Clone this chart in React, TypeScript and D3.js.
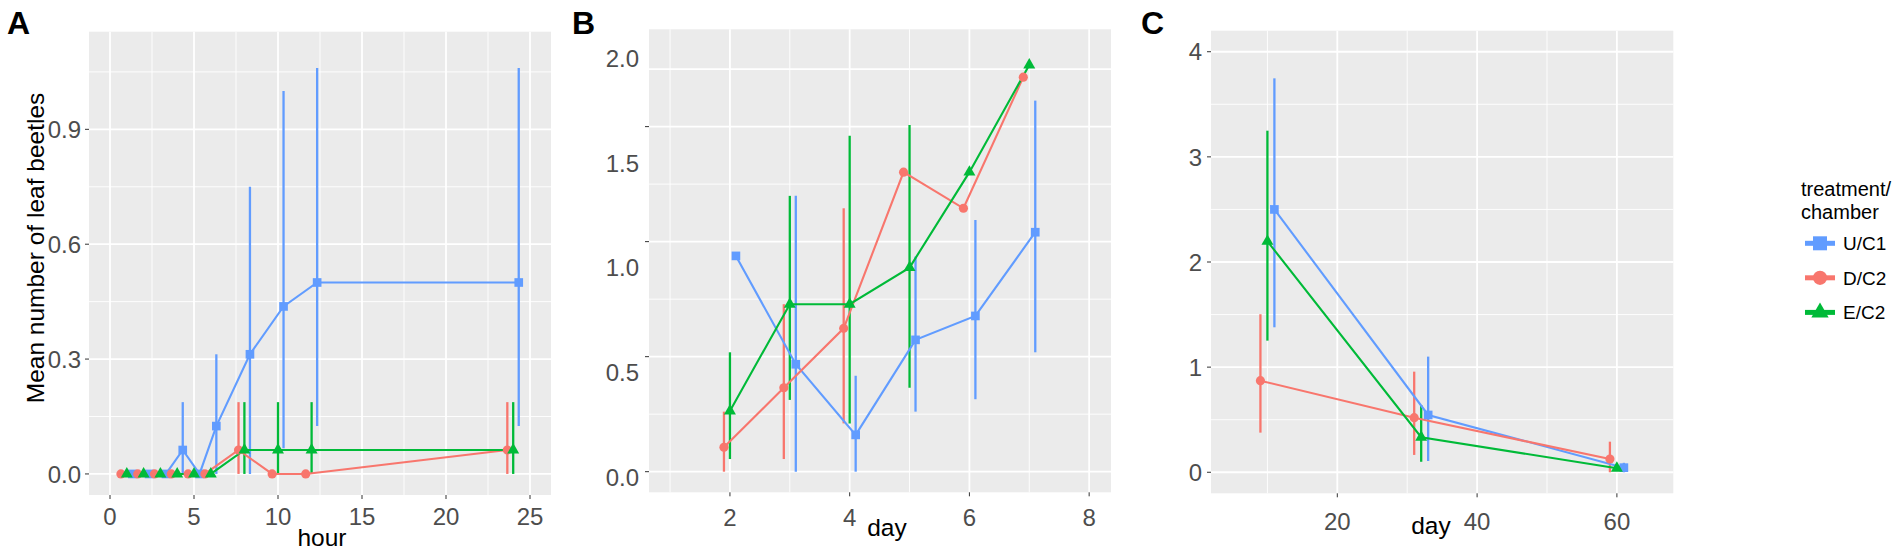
import React from "react";
import * as d3 from "d3";

// ---------- shared ----------
const seriesKeys = ["U/C1", "D/C2", "E/C2"];
const seriesColors = ["#619CFF", "#F8766D", "#00BA38"];
const seriesShapes = [d3.symbolSquare, d3.symbolCircle, d3.symbolTriangle];

// ---------- Panel A (hour) ----------
const hoursA = [1, 2, 3, 4, 5, 6, 8, 10, 12, 24];
const uA = [0, 0, 0, 0.0625, 0, 0.125, 0.3125, 0.4375, 0.5, 0.5];
const uALo = [0, 0, 0, 0, 0, 0, 0, 0.067, 0.125, 0.125];
const uAHi = [0, 0, 0, 0.1875, 0, 0.3125, 0.75, 1.0, 1.06, 1.06];
const dA = [0, 0, 0, 0, 0, 0, 0.0625, 0, 0, 0.0625];
const dALo = [0, 0, 0, 0, 0, 0, 0, 0, 0, 0];
const dAHi = [0, 0, 0, 0, 0, 0, 0.1875, 0, 0, 0.1875];
const eA = [0, 0, 0, 0, 0, 0, 0.0625, 0.0625, 0.0625, 0.0625];
const eALo = [0, 0, 0, 0, 0, 0, 0, 0, 0, 0];
const eAHi = [0, 0, 0, 0, 0, 0, 0.1875, 0.1875, 0.1875, 0.1875];
const xTicksA = [0, 5, 10, 15, 20, 25];
const xMinorA = [2.5, 7.5, 12.5, 17.5, 22.5];
const yTicksA = [0, 0.3, 0.6, 0.9];
const yMinorA = [0.15, 0.45, 0.75, 1.05];
const yLabelsA = ["0.0", "0.3", "0.6", "0.9"];

// ---------- Panel B (day) ----------
const daysB = [2, 3, 4, 5, 6, 7];
const uB = [0.938, 0.467, 0.16, 0.573, 0.677, 1.041];
const uBLo = [null, 0, 0, 0.261, 0.315, 0.519];
const uBHi = [null, 1.199, 0.417, 0.935, 1.094, 1.613];
const dB = [0.106, 0.365, 0.623, 1.302, 1.145, 1.715];
const dBLo = [0, 0.055, 0.21, null, null, null];
const dBHi = [0.261, 0.728, 1.145, null, null, null];
const eB = [0.264, 0.728, 0.728, 0.887, 1.302, 1.768];
const eBLo = [0.055, 0.312, 0.21, 0.365, null, null];
const eBHi = [0.519, 1.199, 1.46, 1.507, null, null];
const xTicksB = [2, 4, 6, 8];
const xMinorB = [1, 3, 5, 7];
const yTicksB = [0, 0.5, 1, 1.5];
const yGridExtraB = [1.75];
const yMinorB = [0.25, 0.75, 1.25];
const yLabelValsB = [0, 0.5, 1, 1.5, 2];
const yLabelsB = ["0.0", "0.5", "1.0", "1.5", "2.0"];

// ---------- Panel C (day) ----------
const daysC = [10, 32, 60];
const uC = [2.5, 0.545, 0.044];
const uCLo = [1.379, 0.107, 0];
const uCHi = [3.747, 1.1, 0.09];
const dC = [0.871, 0.519, 0.126];
const dCLo = [0.377, 0.165, 0];
const dCHi = [1.503, 0.957, 0.291];
const eC = [2.197, 0.333, 0.038];
const eCLo = [1.252, 0.1, null];
const eCHi = [3.249, 0.64, null];
const xTicksC = [20, 40, 60];
const xMinorC = [10, 30, 50];
const yTicksC = [0, 1, 2, 3, 4];
const yMinorC = [0.5, 1.5, 2.5, 3.5];
const yLabelsC = ["0", "1", "2", "3", "4"];

const FONT = "'Liberation Sans', Arial, Helvetica, sans-serif";
const PANEL_BG = "#EBEBEB";
const TICK_COL = "#4D4D4D";

type SeriesData = {
  x: number[];
  y: number[];
  lo: (number | null)[];
  hi: (number | null)[];
};

type PanelProps = {
  letter: string;
  letterX: number;
  left: number;
  right: number;
  top: number;
  bottom: number;
  xDomain: [number, number];
  yDomain: [number, number];
  xTicks: number[];
  xMinor: number[];
  xLabels: string[];
  yTicks: number[];
  yMinor: number[];
  yGridExtra?: number[];
  yLabels: string[];
  yLabelVals?: number[];
  yLabelRange?: [number, number];
  yLabelRight: number;
  series: SeriesData[];
  dodge: number[];
  xTitle: string;
  xTitleX: number;
  xTitleY: number;
  xLabelY: number;
};

function Panel(p: PanelProps) {
  const x = d3.scaleLinear().domain(p.xDomain).range([p.left, p.right]);
  const y = d3.scaleLinear().domain(p.yDomain).range([p.bottom, p.top]);
  const labelY =
    p.yLabelVals && p.yLabelRange
      ? d3.scaleLinear().domain([p.yLabelVals[0], p.yLabelVals[p.yLabelVals.length - 1]]).range(p.yLabelRange)
      : null;
  const line = d3
    .line<[number, number]>()
    .x((d) => d[0])
    .y((d) => d[1]);

  return (
    <g>
      <text x={p.letterX} y={34} fontFamily={FONT} fontWeight="bold" fontSize={32} fill="#000">
        {p.letter}
      </text>
      <rect x={p.left} y={p.top} width={p.right - p.left} height={p.bottom - p.top} fill={PANEL_BG} />
      {p.yMinor.map((v, i) => (
        <line key={"ym" + i} x1={p.left} x2={p.right} y1={y(v)} y2={y(v)} stroke="#fff" strokeWidth={0.9} />
      ))}
      {p.xMinor.map((v, i) => (
        <line key={"xm" + i} x1={x(v)} x2={x(v)} y1={p.top} y2={p.bottom} stroke="#fff" strokeWidth={0.9} />
      ))}
      {[...p.yTicks, ...(p.yGridExtra || [])].map((v, i) => (
        <line key={"yg" + i} x1={p.left} x2={p.right} y1={y(v)} y2={y(v)} stroke="#fff" strokeWidth={1.8} />
      ))}
      {p.xTicks.map((v, i) =>
        x(v) <= p.right ? (
          <line key={"xg" + i} x1={x(v)} x2={x(v)} y1={p.top} y2={p.bottom} stroke="#fff" strokeWidth={1.8} />
        ) : null
      )}
      {/* error bars */}
      {p.series.map((s, si) =>
        s.x.map((xv, i) => {
          const lo = s.lo[i];
          const hi = s.hi[i];
          if (lo === null || hi === null || hi <= lo) return null;
          const xx = x(xv + p.dodge[si]);
          return (
            <line
              key={"eb" + si + "_" + i}
              x1={xx}
              x2={xx}
              y1={y(lo)}
              y2={y(hi)}
              stroke={seriesColors[si]}
              strokeWidth={2.3}
            />
          );
        })
      )}
      {/* lines */}
      {p.series.map((s, si) => (
        <path
          key={"ln" + si}
          d={line(s.x.map((xv, i) => [x(xv + p.dodge[si]), y(s.y[i])] as [number, number])) || ""}
          fill="none"
          stroke={seriesColors[si]}
          strokeWidth={2.1}
        />
      ))}
      {/* points */}
      {p.series.map((s, si) =>
        s.x.map((xv, i) => {
          const size = si === 0 ? 75 : si === 1 ? 66 : 62;
          const path = d3.symbol().type(seriesShapes[si]).size(size)() || "";
          return (
            <path
              key={"pt" + si + "_" + i}
              d={path}
              transform={`translate(${x(xv + p.dodge[si])},${y(s.y[i])})`}
              fill={seriesColors[si]}
            />
          );
        })
      )}
      {/* y axis ticks & labels */}
      {p.yTicks.map((v, i) => (
        <line key={"yt" + i} x1={p.left - 4} x2={p.left} y1={y(v)} y2={y(v)} stroke="#333" strokeWidth={1} />
      ))}
      {p.yLabels.map((lab, i) => {
        const yy = labelY && p.yLabelVals ? labelY(p.yLabelVals[i]) : y(p.yTicks[i]);
        return (
          <text
            key={"yl" + i}
            x={p.yLabelRight}
            y={yy}
            dy="0.36em"
            textAnchor="end"
            fontFamily={FONT}
            fontSize={24}
            fill={TICK_COL}
          >
            {lab}
          </text>
        );
      })}
      {/* x axis ticks & labels */}
      {p.xTicks.map((v, i) => (
        <g key={"xt" + i}>
          <line x1={x(v)} x2={x(v)} y1={p.bottom} y2={p.bottom + 4} stroke="#333" strokeWidth={1} />
          <text
            x={x(v)}
            y={p.xLabelY}
            dy="0.36em"
            textAnchor="middle"
            fontFamily={FONT}
            fontSize={24}
            fill={TICK_COL}
          >
            {p.xLabels[i]}
          </text>
        </g>
      ))}
      <text x={p.xTitleX} y={p.xTitleY} textAnchor="middle" fontFamily={FONT} fontSize={24.5} fill="#000">
        {p.xTitle}
      </text>
    </g>
  );
}

function Legend() {
  const keyX1 = 1805;
  const keyX2 = 1835;
  const keyYs = [243.3, 277.8, 312.4];
  const sizes = [196, 160, 130];
  return (
    <g>
      <text x={1801} y={196} fontFamily={FONT} fontSize={20} fill="#000">
        treatment/
      </text>
      <text x={1801} y={219} fontFamily={FONT} fontSize={20} fill="#000">
        chamber
      </text>
      {seriesKeys.map((k, i) => {
        const cy = keyYs[i];
        const sym = d3.symbol().type(seriesShapes[i]).size(sizes[i])() || "";
        return (
          <g key={k}>
            <line x1={keyX1} x2={keyX2} y1={cy} y2={cy} stroke={seriesColors[i]} strokeWidth={5} />
            <path d={sym} transform={`translate(${(keyX1 + keyX2) / 2},${cy})`} fill={seriesColors[i]} />
            <text x={1843} y={cy} dy="0.36em" fontFamily={FONT} fontSize={19} fill="#000">
              {k}
            </text>
          </g>
        );
      })}
    </g>
  );
}

export default function App() {
  const seriesA: SeriesData[] = [
    { x: hoursA, y: uA, lo: uALo, hi: uAHi },
    { x: hoursA, y: dA, lo: dALo, hi: dAHi },
    { x: hoursA, y: eA, lo: eALo, hi: eAHi },
  ];
  const seriesB: SeriesData[] = [
    { x: daysB, y: uB, lo: uBLo, hi: uBHi },
    { x: daysB, y: dB, lo: dBLo, hi: dBHi },
    { x: daysB, y: eB, lo: eBLo, hi: eBHi },
  ];
  const seriesC: SeriesData[] = [
    { x: daysC, y: uC, lo: uCLo, hi: uCHi },
    { x: daysC, y: dC, lo: dCLo, hi: dCHi },
    { x: daysC, y: eC, lo: eCLo, hi: eCHi },
  ];

  return (
    <svg
      width={1904}
      height={550}
      style={{ position: "absolute", left: 0, top: 0, background: "#fff" }}
    >
      <rect x={0} y={0} width={1904} height={550} fill="#fff" />
      <Panel
        letter="A"
        letterX={7}
        left={89}
        right={551}
        top={31.7}
        bottom={495}
        xDomain={[-1.25, 26.25]}
        yDomain={[-0.055, 1.155]}
        xTicks={xTicksA}
        xMinor={xMinorA}
        xLabels={xTicksA.map(String)}
        yTicks={yTicksA}
        yMinor={yMinorA}
        yLabels={yLabelsA}
        yLabelRight={81}
        series={seriesA}
        dodge={[0.33, -0.35, 0]}
        xTitle="hour"
        xTitleX={322}
        xTitleY={546}
        xLabelY={516.5}
      />
      <text
        transform="translate(44,248) rotate(-90)"
        textAnchor="middle"
        fontFamily={FONT}
        fontSize={24.5}
        fill="#000"
      >
        Mean number of leaf beetles
      </text>
      <Panel
        letter="B"
        letterX={572}
        left={649}
        right={1111}
        top={29.3}
        bottom={492.3}
        xDomain={[0.648, 8.365]}
        yDomain={[-0.0896, 1.923]}
        xTicks={xTicksB}
        xMinor={xMinorB}
        xLabels={xTicksB.map(String)}
        yTicks={yTicksB}
        yMinor={yMinorB}
        yGridExtra={yGridExtraB}
        yLabels={yLabelsB}
        yLabelVals={yLabelValsB}
        yLabelRange={[477, 58.3]}
        yLabelRight={639}
        series={seriesB}
        dodge={[0.1, -0.1, 0]}
        xTitle="day"
        xTitleX={887}
        xTitleY={536}
        xLabelY={517.5}
      />
      <Panel
        letter="C"
        letterX={1141}
        left={1211}
        right={1673.3}
        top={30.7}
        bottom={493.3}
        xDomain={[1.93, 68.07]}
        yDomain={[-0.2, 4.2]}
        xTicks={xTicksC}
        xMinor={xMinorC}
        xLabels={xTicksC.map(String)}
        yTicks={yTicksC}
        yMinor={yMinorC}
        yLabels={yLabelsC}
        yLabelRight={1202}
        series={seriesC}
        dodge={[1, -1, 0]}
        xTitle="day"
        xTitleX={1431}
        xTitleY={534}
        xLabelY={521}
      />
      <Legend />
    </svg>
  );
}
